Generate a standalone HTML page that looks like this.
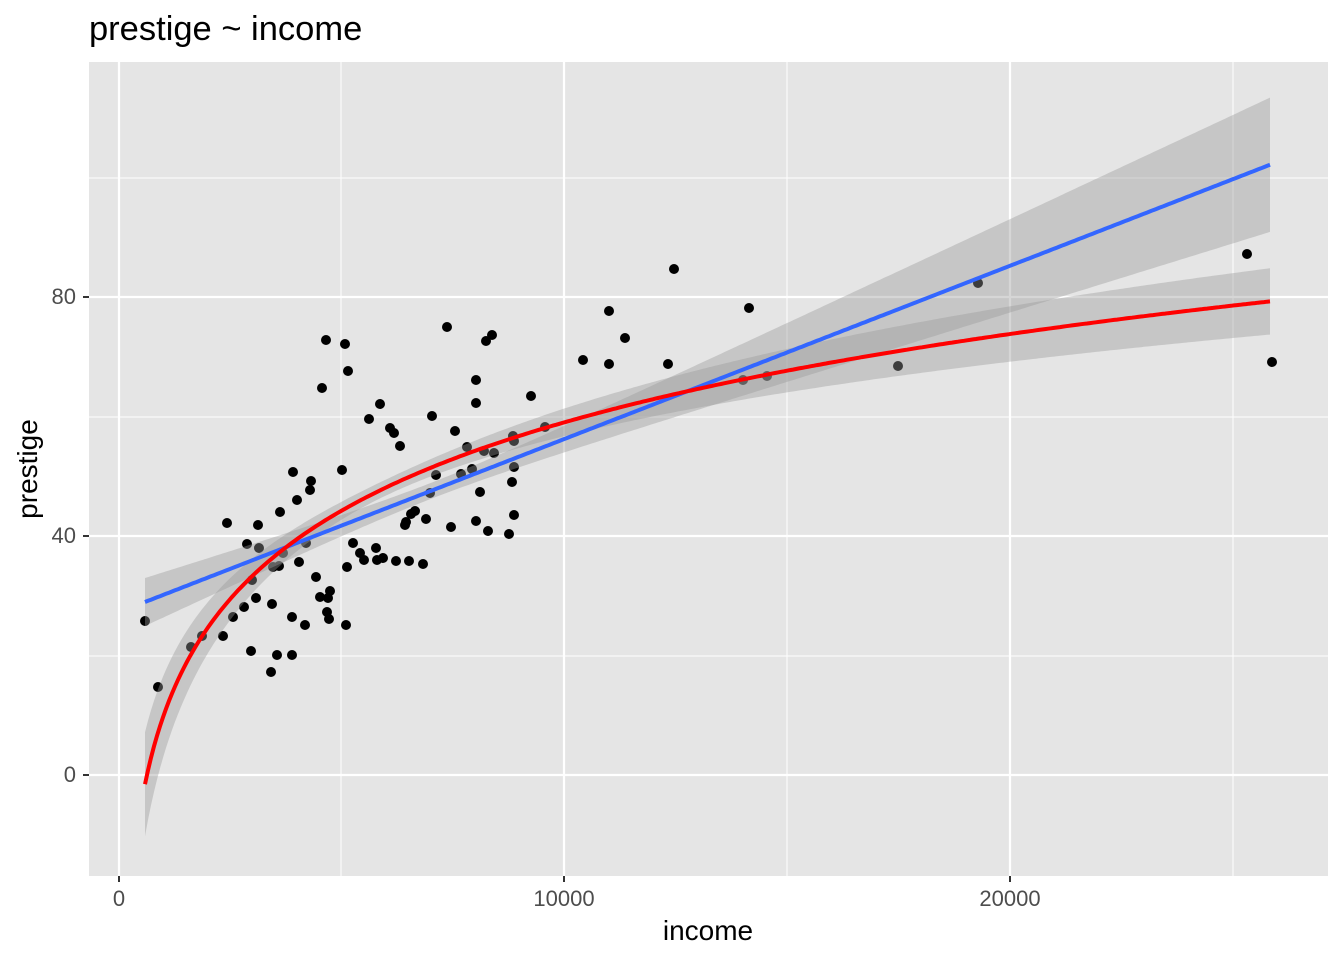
<!DOCTYPE html>
<html><head><meta charset="utf-8"><style>body{margin:0;background:#fff}svg{display:block}text{font-family:"Liberation Sans",Arial,sans-serif}</style></head>
<body>
<svg id="s" width="1344" height="960" xmlns="http://www.w3.org/2000/svg">
<rect x="89" y="62" width="1239" height="814" fill="#e5e5e5"/>
<g stroke="#fff" stroke-width="1">
<line x1="341" x2="341" y1="62" y2="876"/><line x1="787" x2="787" y1="62" y2="876"/><line x1="1233" x2="1233" y1="62" y2="876"/>
<line x1="89" x2="1328" y1="178" y2="178"/><line x1="89" x2="1328" y1="417" y2="417"/><line x1="89" x2="1328" y1="656" y2="656"/>
</g>
<g stroke="#fff" stroke-width="2.2">
<line x1="119" x2="119" y1="62" y2="876"/><line x1="564" x2="564" y1="62" y2="876"/><line x1="1010" x2="1010" y1="62" y2="876"/>
<line x1="89" x2="1328" y1="297" y2="297"/><line x1="89" x2="1328" y1="536" y2="536"/><line x1="89" x2="1328" y1="775" y2="775"/>
</g>
<g id="pts" fill="#000"></g>
<path id="bb" fill="#999" fill-opacity="0.4"/>
<path id="rb" fill="#999" fill-opacity="0.4"/>
<path id="bl" fill="none" stroke="#3366FF" stroke-width="4"/>
<path id="rl" fill="none" stroke="#FF0000" stroke-width="4"/>
<g stroke="#333" stroke-width="2">
<line x1="119" x2="119" y1="876" y2="882"/><line x1="564" x2="564" y1="876" y2="882"/><line x1="1010" x2="1010" y1="876" y2="882"/>
<line x1="83" x2="89" y1="297" y2="297"/><line x1="83" x2="89" y1="536" y2="536"/><line x1="83" x2="89" y1="775" y2="775"/>
</g>
<g fill="#4d4d4d" font-size="22">
<text x="119" y="906" text-anchor="middle">0</text><text x="564" y="906" text-anchor="middle">10000</text><text x="1010" y="906" text-anchor="middle">20000</text>
<text x="76" y="304" text-anchor="end">80</text><text x="76" y="543" text-anchor="end">40</text><text x="76" y="782" text-anchor="end">0</text>
</g>
<text x="708" y="940" text-anchor="middle" font-size="28">income</text>
<text transform="translate(37,469) rotate(-90)" text-anchor="middle" font-size="28">prestige</text>
<text x="89" y="40" font-size="34.5">prestige ~ income</text>
</svg>
<script>
var P=[[145,621],[158,687],[191,647],[202,636],[223,636],[227,523],[233,617],[244,607],[247,544],[251,651],[252,580],[256,598],[258,525],[259,548],[271,672],[272,604],[273,567],[277,655],[279,566],[280,512],[283,553],[292,655],[292,617],[293,472],[297,500],[299,562],[305,625],[306,543],[310,490],[311,481],[316,577],[320,597],[322,388],[326,340],[327,612],[328,598],[329,619],[330,591],[342,470],[345,344],[346,625],[347,567],[348,371],[353,543],[360,553],[364,560],[369,419],[376,548],[377,560],[380,404],[383,558],[390,428],[394,433],[396,561],[400,446],[405,525],[406,522],[409,561],[411,514],[415,511],[423,564],[426,519],[430,493],[432,416],[436,475],[447,327],[451,527],[455,431],[461,474],[467,447],[472,469],[476,403],[476,380],[476,521],[480,492],[484,451],[486,341],[488,531],[492,335],[494,453],[509,534],[512,482],[513,436],[514,441],[514,467],[514,515],[531,396],[545,427],[583,360],[609,311],[609,364],[625,338],[668,364],[674,269],[743,380],[749,308],[767,376],[898,366],[978,283],[1247,254],[1272,362]];
var g=document.getElementById('pts'),ns='http://www.w3.org/2000/svg';
P.forEach(function(p){var c=document.createElementNS(ns,'circle');c.setAttribute('cx',p[0]);c.setAttribute('cy',p[1]);c.setAttribute('r',5);g.appendChild(c);});
function band(f,h){var up=[],lo=[],ln=[];for(var x=145;x<=1272;x+=3){var y=f(x),d=h(x);up.push(x+','+(y-d).toFixed(1));lo.unshift(x+','+(y+d).toFixed(1));ln.push(x+','+y.toFixed(1));}
return ['M'+up.join('L')+'L'+lo.join('L')+'Z','M'+ln.join('L')];}
var b=band(function(x){return 602+(164-602)*(x-145)/(1127);},function(x){return Math.sqrt(64+0.0063*(x-430)*(x-430));});
document.getElementById('bb').setAttribute('d',b[0]);document.getElementById('bl').setAttribute('d',b[1]);
function inc(x){return (x-119)/0.04455;}
var r=band(function(x){var p=-137.2+21.3*Math.log(inc(x));return 775-p*5.98;},function(x){var u=Math.log(inc(x))-8.7;return Math.sqrt(64+486*u*u);});
document.getElementById('rb').setAttribute('d',r[0]);document.getElementById('rl').setAttribute('d',r[1]);
</script>
</body></html>
